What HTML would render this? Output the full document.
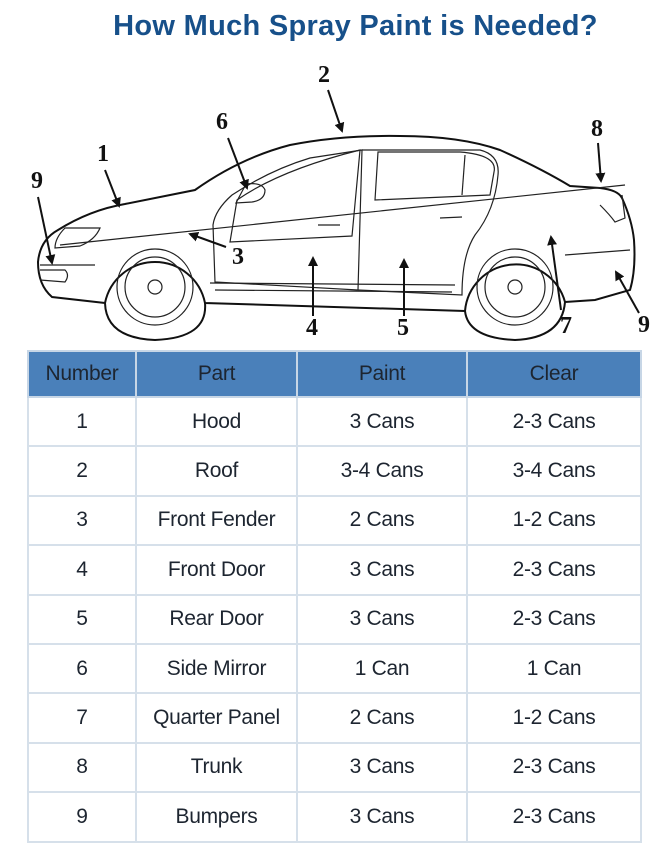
<!DOCTYPE html>
<html><head><meta charset="utf-8"><style>
body{margin:0;width:667px;height:842px;background:#fff;overflow:hidden;font-family:"Liberation Sans",sans-serif;position:relative}
.t{position:absolute;top:10px;left:22px;width:667px;text-align:center;font-weight:bold;font-size:29px;color:#17508a;letter-spacing:0.3px}
table{position:absolute;left:27px;top:350px;width:613px;height:491px;border-collapse:collapse;table-layout:fixed}
td,th{border:2px solid #d6e0ea;text-align:center;font-size:21px;color:#1d2530;font-weight:normal;padding:0;letter-spacing:-0.3px}
tr{height:49.4px}
tr.h{height:46px}
th{background:#4a80ba;border-color:#c7d6e6}
svg{position:absolute;left:0;top:0}
</style></head><body>
<div class="t">How Much Spray Paint is Needed?</div>
<svg width="667" height="345" viewBox="0 0 667 345">
<defs><marker id="a" markerWidth="5" markerHeight="5" refX="4" refY="2.5" orient="auto"><path d="M0,0 L5,2.5 L0,5 z" fill="#111"/></marker></defs>
<g fill="none" stroke="#111" stroke-width="2">
<path d="M105,303 L52,297 Q38,285 38,262 Q40,240 58,230 Q90,210 125,204 L195,190 Q240,158 290,145 Q340,135 400,136 Q460,136 500,150 Q540,168 570,186 L600,188 Q618,190 622,198 Q632,220 634,240 Q636,270 630,290 L595,300 L565,302"/>
<path d="M105,303 A51,51 0 0 1 205,303 L465,311"/>
<path d="M465,311 A51,51 0 0 1 565,302"/>
<path d="M205,303 Q208,338 155,340 Q106,338 105,303"/>
<path d="M465,311 Q468,338 515,340 Q562,338 565,302"/>
</g>
<g fill="none" stroke="#222" stroke-width="1.2">
<circle cx="155" cy="287" r="38"/><circle cx="155" cy="287" r="30"/><circle cx="155" cy="287" r="7"/>
<circle cx="515" cy="287" r="38"/><circle cx="515" cy="287" r="30"/><circle cx="515" cy="287" r="7"/>
<path d="M60,245 L625,185"/>
<path d="M215,282 L213,225 Q215,210 232,195 Q270,170 310,158 L362,150 L358,290 Z"/>
<path d="M362,150 L480,150 Q500,155 498,175 Q495,210 475,235 Q462,255 462,295 L358,290"/>
<path d="M230,242 L237,200 Q280,170 360,150 L352,236 Z"/>
<path d="M378,152 L460,152 Q498,155 494,172 L490,195 L375,200 Z"/>
<path d="M465,155 L462,195"/>
<path d="M246,184 Q262,182 265,190 Q265,200 252,202 L236,203 Z"/>
<path d="M210,283 L455,285 M215,290 L452,292"/>
<path d="M318,225 L340,225 M440,218 L462,217"/>
<path d="M65,228 Q55,238 55,248 L80,246 Q95,240 100,228 Z"/>
<path d="M40,265 L95,265 M40,280 L65,282 Q70,275 65,270 L40,270"/>
<path d="M600,205 Q610,215 615,222 L625,218 L622,195"/>
<path d="M565,255 L630,250"/>
</g>
<g stroke="#111" stroke-width="2" marker-end="url(#a)">
<line x1="105" y1="170" x2="119" y2="206"/>
<line x1="328" y1="90" x2="342" y2="131"/>
<line x1="228" y1="138" x2="247" y2="188"/>
<line x1="598" y1="143" x2="601" y2="181"/>
<line x1="38" y1="197" x2="52" y2="263"/>
<line x1="226" y1="247" x2="190" y2="234"/>
<line x1="313" y1="316" x2="313" y2="258"/>
<line x1="404" y1="316" x2="404" y2="260"/>
<line x1="561" y1="310" x2="551" y2="237"/>
<line x1="639" y1="313" x2="616" y2="272"/>
</g>
<g font-family="Liberation Serif,serif" font-weight="bold" font-size="24" fill="#111" text-anchor="middle">
<text x="103" y="161">1</text><text x="324" y="82">2</text><text x="222" y="129">6</text>
<text x="597" y="136">8</text><text x="37" y="188">9</text><text x="238" y="264">3</text>
<text x="312" y="335">4</text><text x="403" y="335">5</text><text x="566" y="333">7</text><text x="644" y="332">9</text>
</g>
</svg>
<table>
<colgroup><col style="width:108px"><col style="width:161px"><col style="width:170px"><col style="width:174px"></colgroup>
<tr class="h"><th>Number</th><th>Part</th><th>Paint</th><th>Clear</th></tr>
<tr><td>1</td><td>Hood</td><td>3 Cans</td><td>2-3 Cans</td></tr>
<tr><td>2</td><td>Roof</td><td>3-4 Cans</td><td>3-4 Cans</td></tr>
<tr><td>3</td><td>Front Fender</td><td>2 Cans</td><td>1-2 Cans</td></tr>
<tr><td>4</td><td>Front Door</td><td>3 Cans</td><td>2-3 Cans</td></tr>
<tr><td>5</td><td>Rear Door</td><td>3 Cans</td><td>2-3 Cans</td></tr>
<tr><td>6</td><td>Side Mirror</td><td>1 Can</td><td>1 Can</td></tr>
<tr><td>7</td><td>Quarter Panel</td><td>2 Cans</td><td>1-2 Cans</td></tr>
<tr><td>8</td><td>Trunk</td><td>3 Cans</td><td>2-3 Cans</td></tr>
<tr><td>9</td><td>Bumpers</td><td>3 Cans</td><td>2-3 Cans</td></tr>
</table>
</body></html>
